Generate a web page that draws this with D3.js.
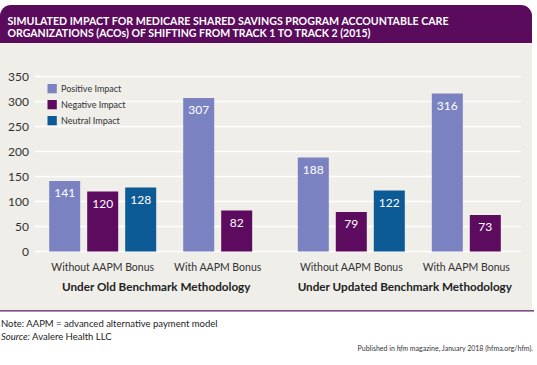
<!DOCTYPE html>
<html><head><meta charset="utf-8">
<script src="https://cdn.jsdelivr.net/npm/d3@7"></script>
<style>
html,body{margin:0;padding:0;background:#fff;}
svg{display:block;font-family:Lato,"Open Sans",sans-serif;}
</style></head>
<body><svg id="c" width="537" height="365"></svg>
<script>
// ---- data ----
const titleLines = ["SIMULATED IMPACT FOR MEDICARE SHARED SAVINGS PROGRAM ACCOUNTABLE CARE",
                    "ORGANIZATIONS (ACOs) OF SHIFTING FROM TRACK 1 TO TRACK 2 (2015)"];
const supergroups = ["Under Old Benchmark Methodology", "Under Updated Benchmark Methodology"];
const subgroups = ["Without AAPM Bonus", "With AAPM Bonus"];
const seriesNames = ["Positive Impact", "Negative Impact", "Neutral Impact"];
// order: Old/Without, Old/With, Updated/Without, Updated/With
const positive = [141, 307, 188, 316];
const negative = [120, 82, 79, 73];
const neutral  = [128, null, 122, null];
const yTicks = [0, 50, 100, 150, 200, 250, 300, 350];
const colors = ["#7b82c2", "#5c0b5f", "#0c5a96"];
const noteText = "Note: AAPM = advanced alternative payment model";
const sourceLabel = "Source:";
const sourceText = " Avalere Health LLC";
const pubText = ["Published in ", "hfm", " magazine, January 2018 (hfma.org/hfm)."];

// ---- layout ----
const W = 537, H = 365;
const svg = d3.select("#c");
const plotL = 35, plotR = 521, plotT = 76.5, plotB = 251.5;

// background panel
svg.append("rect").attr("x", 0).attr("y", 30).attr("width", 532).attr("height", 280).attr("fill", "#efeee9");
// header with rounded top corners
const hp = d3.path(), r = 11, hx0 = 0, hx1 = 532, hy0 = 5, hy1 = 43;
hp.moveTo(hx0, hy1); hp.lineTo(hx0, hy0 + r); hp.arcTo(hx0, hy0, hx0 + r, hy0, r);
hp.lineTo(hx1 - r, hy0); hp.arcTo(hx1, hy0, hx1, hy0 + r, r); hp.lineTo(hx1, hy1); hp.closePath();
svg.append("path").attr("d", hp.toString()).attr("fill", "#5a0b5c");
const titleWidths = [441, 363];
svg.selectAll("text.title").data(titleLines).join("text").attr("class", "title")
  .attr("x", 7.5).attr("y", (d, i) => 24.5 + i * 12)
  .attr("textLength", (d, i) => titleWidths[i]).attr("lengthAdjust", "spacingAndGlyphs")
  .attr("fill", "#fff").attr("font-weight", 700).attr("font-size", 11).text(d => d);

// bottom rule
svg.append("rect").attr("x", 0).attr("y", 310).attr("width", 534).attr("height", 1.6).attr("fill", "#7d4a82");

// scales
const y = d3.scaleLinear().domain([0, 350]).range([plotB, plotT]);
const xOuter = d3.scalePoint().domain(supergroups).range([plotL + 125.2, plotL + 373.8]);
const xInner = d3.scalePoint().domain(subgroups).range([-57.5, 57.5]);

// gridlines
svg.append("g").selectAll("line").data(yTicks).join("line")
  .attr("x1", plotL).attr("x2", plotR).attr("y1", d => y(d)).attr("y2", d => y(d))
  .attr("stroke", "#fff").attr("stroke-width", 1.5);

// y axis labels
const yAxis = d3.axisLeft(y).tickValues(yTicks).tickSize(0).tickPadding(0);
const yg = svg.append("g").attr("transform", `translate(29,0)`).call(yAxis);
yg.select(".domain").remove();
yg.selectAll("text").attr("font-family", "Lato").attr("font-size", 12).attr("fill", "#333");

// bars
const cats = [];
supergroups.forEach((sg, i) => subgroups.forEach((sb, j) => {
  const k = i * 2 + j;
  const vals = [positive[k], negative[k], neutral[k]];
  cats.push({ sg, sb, bars: seriesNames.map((s, si) => ({ s, si, v: vals[si] })).filter(b => b.v != null) });
}));
const barStep = 38, barGap = 7;
cats.forEach(c => {
  const n = c.bars.length, w = n * barStep - barGap;
  const xs = d3.scaleBand().domain(c.bars.map(b => b.s)).range([-w / 2, w / 2]).paddingInner(barGap / barStep).paddingOuter(0);
  const cx = xOuter(c.sg) + xInner(c.sb);
  const g = svg.append("g").attr("transform", `translate(${cx},0)`);
  g.selectAll("rect").data(c.bars).join("rect")
    .attr("x", d => xs(d.s)).attr("width", xs.bandwidth())
    .attr("y", d => y(d.v)).attr("height", d => y(0) - y(d.v))
    .attr("fill", d => colors[d.si]);
  g.selectAll("text").data(c.bars).join("text")
    .attr("x", d => xs(d.s) + xs.bandwidth() / 2).attr("y", d => y(d.v) + 16)
    .attr("text-anchor", "middle").attr("fill", "#fff").attr("font-size", 12).text(d => d.v);
  svg.append("text").attr("x", cx).attr("y", 271).attr("text-anchor", "middle")
    .attr("font-size", 10.5).attr("fill", "#333").text(c.sb);
});
supergroups.forEach(sg => {
  svg.append("text").attr("x", xOuter(sg) - 4).attr("y", 290.5).attr("text-anchor", "middle")
    .attr("font-size", 11.7).attr("font-weight", 700).attr("fill", "#222").text(sg);
});

// legend
const lg = svg.append("g").attr("transform", "translate(47.5,84)");
seriesNames.forEach((s, i) => {
  lg.append("rect").attr("x", 0).attr("y", i * 16).attr("width", 9.3).attr("height", 9.3).attr("fill", colors[i]);
  lg.append("text").attr("x", 13.5).attr("y", i * 16 + 8.3).attr("font-size", 9).attr("fill", "#333").text(s);
});

// notes
svg.append("text").attr("x", 1).attr("y", 326.5).attr("font-size", 9.5).attr("fill", "#222").text(noteText);
const st = svg.append("text").attr("x", 1).attr("y", 340).attr("font-size", 9.5).attr("fill", "#222");
st.append("tspan").attr("font-style", "italic").text(sourceLabel);
st.append("tspan").text(sourceText);
const pt = svg.append("text").attr("x", 533).attr("y", 350.5).attr("text-anchor", "end").attr("font-size", 7).attr("fill", "#333");
pt.selectAll("tspan").data(pubText).join("tspan").attr("font-style", (d, i) => i === 1 ? "italic" : null).text(d => d);
</script></body></html>
